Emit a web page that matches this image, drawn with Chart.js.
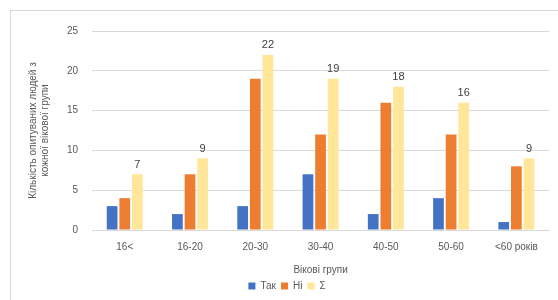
<!DOCTYPE html>
<html>
<head>
<meta charset="utf-8">
<script src="https://cdn.jsdelivr.net/npm/chart.js@4"></script>
<style>
  body { margin: 0; background: #fff; }
  #wrap { position: absolute; left: 10px; top: 10px; width: 560px; height: 300px; border: 1px solid #d9d9d9; box-sizing: border-box; }
  canvas { position: absolute; left: 0; top: 0; }
</style>
</head>
<body>
<div id="wrap"><canvas id="chart" width="548" height="290"></canvas></div>
<script>
const groups = ['16<', '16-20', '20-30', '30-40', '40-50', '50-60', '<60 років'];
const yes = [3, 2, 3, 7, 2, 4, 1];
const no = [4, 7, 19, 12, 16, 12, 8];
const total = [7, 9, 22, 19, 18, 16, 9];

// labels above the Σ bars only
const sumLabels = {
    id: 'sumLabels',
    afterDatasetsDraw(chart) {
        const ctx = chart.ctx;
        const meta = chart.getDatasetMeta(2);
        ctx.save();
        ctx.font = '11px "Liberation Sans", Arial, sans-serif';
        ctx.fillStyle = '#404040';
        ctx.textAlign = 'center';
        ctx.textBaseline = 'bottom';
        meta.data.forEach((bar, i) => {
            ctx.fillText(total[i], bar.x, bar.y - 4);
        });
        ctx.restore();
    }
};

new Chart(document.getElementById('chart'), {
    type: 'bar',
    data: {
        labels: groups,
        datasets: [
            { label: 'Так', data: yes, backgroundColor: '#4472C4' },
            { label: 'Ні', data: no, backgroundColor: '#ED7D31' },
            { label: 'Σ', data: total, backgroundColor: '#FFE699' }
        ]
    },
    options: {
        responsive: false,
        animation: false,
        layout: { padding: { left: 14, right: 10, top: 15, bottom: 0 } },
        datasets: { bar: { categoryPercentage: 0.58, barPercentage: 0.85 } },
        plugins: {
            legend: {
                position: 'bottom',
                labels: { boxWidth: 7, boxHeight: 7, font: { size: 10 }, color: '#595959', padding: 5 }
            },
            tooltip: { enabled: false }
        },
        scales: {
            y: {
                min: 0, max: 25,
                ticks: { stepSize: 5, color: '#595959', font: { size: 10 }, padding: 14 },
                grid: { color: '#d9d9d9', drawTicks: false },
                border: { display: false },
                title: {
                    display: true,
                    text: ['Кількість опитуваних людей з', 'кожної вікової групи'],
                    color: '#595959', font: { size: 10 }, padding: 2
                }
            },
            x: {
                ticks: { color: '#595959', font: { size: 10 }, padding: 11 },
                grid: { display: false, drawTicks: false },
                border: { color: '#d9d9d9' },
                title: { display: true, text: 'Вікові групи', color: '#595959', font: { size: 10 }, padding: 0 }
            }
        }
    },
    plugins: [sumLabels]
});
</script>
</body>
</html>
